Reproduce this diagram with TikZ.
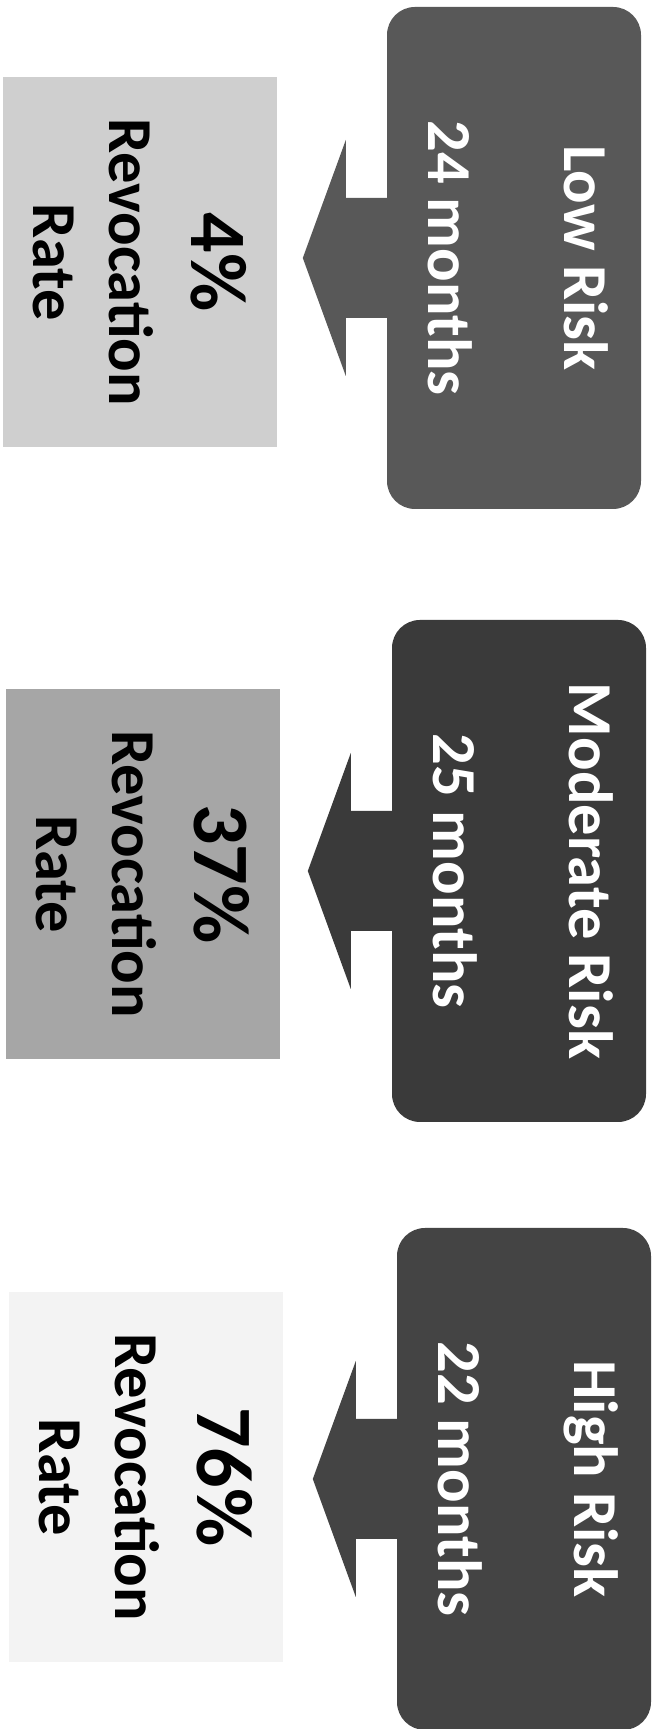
\documentclass[tikz,border=0pt]{standalone}
\usepackage{fontspec}
\setmainfont{Carlito}
\usetikzlibrary{calc}
\definecolor{darkA}{HTML}{585858}
\definecolor{darkB}{HTML}{3A3A3A}
\definecolor{darkC}{HTML}{444444}
\definecolor{lightA}{HTML}{CFCFCF}
\definecolor{lightB}{HTML}{A6A6A6}
\definecolor{lightC}{HTML}{F3F3F3}
\begin{document}
\begin{tikzpicture}[x=1pt,y=1pt,
  riskbox/.style={rounded corners=28pt, minimum width=254pt, minimum height=502pt, inner sep=0pt},
  ratebox/.style={minimum width=274pt, minimum height=370pt, inner sep=0pt},
  risktext/.style={rotate=-90, align=center, text=white, inner sep=0pt, font=\fontsize{62.5}{76}\selectfont\bfseries},
  ratetext/.style={rotate=-90, align=center, text=black, inner sep=0pt, font=\fontsize{62.5}{76}\selectfont\bfseries},
]
\useasboundingbox (0,0) rectangle (659,1729);
\fill[white] (0,0) rectangle (659,1729);

% ---- Row 1: Low risk
\node[riskbox, fill=darkA] (low) at (514,1471) {};
\node[risktext] (lowtxt) at ([xshift=4pt]low.center) {Low Risk\\[60pt]24 months};
\fill[darkA] (low.west) ++(0,60) -- ++(-41,0) -- ++(0,58) -- ++(-43,-118) -- ++(43,-118) -- ++(0,58) -- ++(41,0) -- cycle;
\node[ratebox, fill=lightA] (lowrate) at (140,1467) {};
\node[ratetext] (lowratetxt) at (lowrate.center) {{\fontsize{80}{80}\selectfont 4\%}\\[6pt]Revocation\\Rate};

% ---- Row 2: Moderate risk
\node[riskbox, fill=darkB] (mod) at (519,858) {};
\node[risktext] (modtxt) at ([xshift=4pt]mod.center) {Moderate Risk\\[60pt]25 months};
\fill[darkB] (mod.west) ++(0,60) -- ++(-41,0) -- ++(0,58) -- ++(-43,-118) -- ++(43,-118) -- ++(0,58) -- ++(41,0) -- cycle;
\node[ratebox, fill=lightB] (modrate) at (143,855) {};
\node[ratetext] (modratetxt) at (modrate.center) {{\fontsize{80}{80}\selectfont 37\%}\\[6pt]Revocation\\Rate};

% ---- Row 3: High risk
\node[riskbox, fill=darkC] (high) at (524,250) {};
\node[risktext] (hightxt) at ([xshift=4pt]high.center) {High Risk\\[60pt]22 months};
\fill[darkC] (high.west) ++(0,60) -- ++(-41,0) -- ++(0,58) -- ++(-43,-118) -- ++(43,-118) -- ++(0,58) -- ++(41,0) -- cycle;
\node[ratebox, fill=lightC] (highrate) at (146,252) {};
\node[ratetext] (highratetxt) at (highrate.center) {{\fontsize{80}{80}\selectfont 76\%}\\[6pt]Revocation\\Rate};
\end{tikzpicture}
\end{document}
